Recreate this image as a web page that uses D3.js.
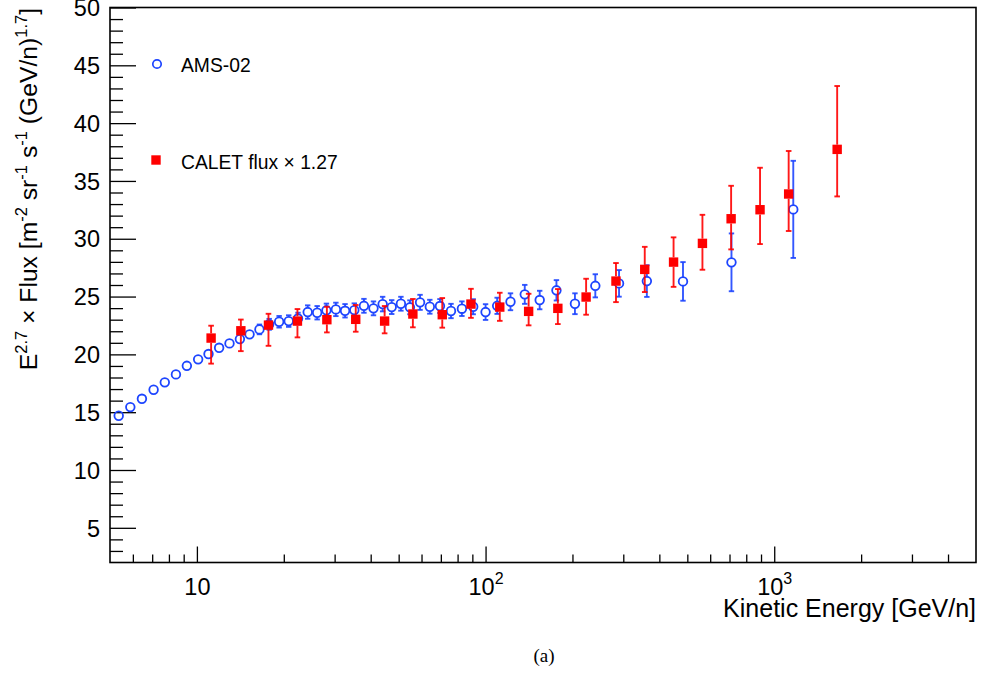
<!DOCTYPE html>
<html>
<head>
<meta charset="utf-8">
<script src="https://cdn.jsdelivr.net/npm/d3@7/dist/d3.min.js"></script>
<style>
  body { margin: 0; background: #fff; }
  text { font-family: "Liberation Sans", Arial, Helvetica, sans-serif; fill: #000; }
</style>
</head>
<body>
<div id="chart"></div>
<script>
// AMS-02 points (kinetic energy per nucleon, E^2.7 x flux, error)
var amsEnergy = [5.36, 5.88, 6.45, 7.08, 7.74, 8.46, 9.23, 10.1, 10.97, 11.94, 12.97, 14.09, 15.22, 16.47, 17.8, 19.27, 20.8, 22.4,
  24.2, 26.1, 28.1, 30.3, 32.6, 35.1, 37.9, 40.9, 44.0, 47.3, 50.9, 54.7, 59.3, 64.1, 69.5, 75.9, 82.8, 90.6, 100, 109.7,
  122, 136.7, 154, 176, 204, 240, 290, 362, 483, 711, 1164];
var amsFlux = [14.69, 15.44, 16.16, 16.94, 17.58, 18.27, 19.01, 19.57, 20.03, 20.57, 20.95, 21.32, 21.73, 22.16, 22.6, 22.82, 22.88, 23.1,
  23.66, 23.6, 23.81, 23.89, 23.77, 23.83, 24.2, 23.98, 24.35, 24.09, 24.38, 24.07, 24.5, 24.12, 24.18, 23.75, 23.95, 24.12, 23.66, 24.2,
  24.55, 25.19, 24.7, 25.54, 24.38, 25.93, 26.14, 26.34, 26.31, 27.96, 32.54];
var amsErr = [0.2, 0.2, 0.2, 0.2, 0.2, 0.2, 0.2, 0.2, 0.2, 0.25, 0.25, 0.3, 0.35, 0.42, 0.47, 0.5, 0.5, 0.5,
  0.58, 0.58, 0.58, 0.58, 0.58, 0.58, 0.6, 0.6, 0.63, 0.6, 0.6, 0.6, 0.65, 0.6, 0.6, 0.62, 0.63, 0.65, 0.68, 0.7,
  0.73, 0.82, 0.8, 0.88, 0.9, 1.0, 1.15, 1.37, 1.67, 2.5, 4.2];

// CALET points (flux x 1.27), asymmetric errors
var caletEnergy = [11.2, 14.2, 17.7, 22.3, 28.2, 35.5, 44.7, 56, 70.8, 89, 112, 141, 178, 223, 283, 356, 448, 564, 709, 893, 1122, 1652];
var caletFlux = [21.41, 22.04, 22.53, 22.88, 23.0, 23.03, 22.88, 23.49, 23.43, 24.35, 24.09, 23.72, 23.98, 24.96, 26.34, 27.35, 27.98, 29.6, 31.73, 32.51, 33.87, 37.73];
var caletErrUp = [1.07, 0.97, 0.98, 1.04, 1.12, 1.24, 1.3, 1.3, 1.44, 1.32, 1.24, 1.52, 1.67, 1.58, 1.56, 1.95, 2.14, 2.47, 2.85, 3.63, 3.72, 5.48];
var caletErrDown = [2.21, 1.76, 1.79, 1.41, 1.1, 1.07, 1.06, 1.15, 1.12, 1.19, 1.19, 1.21, 1.36, 1.53, 1.82, 1.96, 2.14, 2.28, 2.65, 2.97, 3.2, 4.07];

var xMajorTicks = [10, 100, 1000];
var xTickLabels = [["10", ""], ["10", "2"], ["10", "3"]];
var yMajorTicks = [5, 10, 15, 20, 25, 30, 35, 40, 45, 50];

var amsColor = "#1d45ff", caletColor = "#ff0000";

function fluxChart() {
  var W = 982, H = 676;
  var left = 110, right = 976, top = 7.5, bottom = 562.5;

  var svg = d3.select("#chart")
    .append("svg")
      .attr("width", W)
      .attr("height", H);

  var x = d3.scaleLog().domain([5, 5000]).range([left, right]);
  var y = d3.scaleLinear().domain([2, 50]).range([bottom, top]);

  // minor ticks (every integer on y, 2..9 per decade on x)
  var yMinor = d3.range(3, 50).filter(function(v) { return v % 5 != 0; });
  var xMinor = [];
  [1, 10, 100, 1000].forEach(function(dec) {
    d3.range(2, 10).forEach(function(m) {
      var v = m * dec;
      if (v > 5 && v < 5000) xMinor.push(v);
    });
  });

  // Y axis
  var gy = svg.append("g").attr("transform", "translate(" + left + ",0)");
  gy.call(d3.axisLeft(y).tickValues(yMajorTicks).tickSize(-26).tickSizeOuter(0).tickPadding(10));
  gy.append("g").call(d3.axisLeft(y).tickValues(yMinor).tickSize(-13).tickSizeOuter(0).tickFormat(""));
  gy.selectAll(".domain").remove();
  gy.selectAll("line").attr("stroke", "#000").attr("stroke-width", 1.3);
  gy.selectAll("text").attr("font-size", 23.5).attr("font-family", "Liberation Sans, Arial, sans-serif").attr("dy", "0.35em");

  // X axis
  var gx = svg.append("g").attr("transform", "translate(0," + bottom + ")");
  gx.call(d3.axisBottom(x).tickValues(xMajorTicks).tickSize(-16).tickSizeOuter(0));
  gx.append("g").call(d3.axisBottom(x).tickValues(xMinor).tickSize(-8).tickSizeOuter(0).tickFormat(""));
  gx.selectAll(".domain").remove();
  gx.selectAll("line").attr("stroke", "#000").attr("stroke-width", 1.3);
  gx.selectAll(".tick text")
    .filter(function(d) { return xMajorTicks.indexOf(d) >= 0; })
    .each(function(d) {
      var lab = xTickLabels[xMajorTicks.indexOf(d)];
      var t = d3.select(this).text(null)
        .attr("y", 32).attr("dy", null)
        .attr("font-size", 23.5).attr("font-family", "Liberation Sans, Arial, sans-serif");
      t.append("tspan").text(lab[0]);
      if (lab[1]) t.append("tspan").attr("dy", -11).attr("font-size", 16).text(lab[1]);
    });

  // frame
  svg.append("rect")
    .attr("x", left).attr("y", top)
    .attr("width", right - left).attr("height", bottom - top)
    .attr("fill", "none").attr("stroke", "#000").attr("stroke-width", 1.6);

  // error bar helper: segments outside the marker, with small caps
  function errorBars(data, color, r, cap) {
    var segs = [];
    data.forEach(function(d) {
      var cx = x(d.e), cy = y(d.v), yt = y(d.v + d.up), yb = y(d.v - d.down);
      if (cy - yt > r) {
        segs.push([cx, cy - r, cx, yt]);
        segs.push([cx - cap, yt, cx + cap, yt]);
      }
      if (yb - cy > r) {
        segs.push([cx, cy + r, cx, yb]);
        segs.push([cx - cap, yb, cx + cap, yb]);
      }
    });
    svg.append("g").selectAll("line")
      .data(segs)
      .enter().append("line")
        .attr("x1", function(s) { return s[0]; })
        .attr("y1", function(s) { return s[1]; })
        .attr("x2", function(s) { return s[2]; })
        .attr("y2", function(s) { return s[3]; })
        .attr("stroke", color)
        .attr("stroke-opacity", 0.9)
        .attr("stroke-width", 1.9);
  }

  var ams = amsEnergy.map(function(e, i) {
    return { e: e, v: amsFlux[i], up: amsErr[i], down: amsErr[i] };
  });
  var calet = caletEnergy.map(function(e, i) {
    return { e: e, v: caletFlux[i], up: caletErrUp[i], down: caletErrDown[i] };
  });

  // AMS-02
  errorBars(ams, amsColor, 4.3, 2.7);
  svg.append("g").selectAll("circle")
    .data(ams)
    .enter().append("circle")
      .attr("cx", function(d) { return x(d.e); })
      .attr("cy", function(d) { return y(d.v); })
      .attr("r", 4.3)
      .attr("fill", "none")
      .attr("stroke", amsColor)
      .attr("stroke-width", 1.8);

  // CALET
  errorBars(calet, caletColor, 4.7, 2.8);
  svg.append("g").selectAll("rect")
    .data(calet)
    .enter().append("rect")
      .attr("x", function(d) { return x(d.e) - 4.7; })
      .attr("y", function(d) { return y(d.v) - 4.7; })
      .attr("width", 9.4)
      .attr("height", 9.4)
      .attr("fill", caletColor);

  // legend
  var leg = svg.append("g");
  leg.append("circle").attr("cx", 157).attr("cy", 64).attr("r", 4.2)
    .attr("fill", "none").attr("stroke", amsColor).attr("stroke-width", 1.7);
  leg.append("text").attr("x", 181).attr("y", 72).attr("font-size", 19.3).text("AMS-02");
  leg.append("rect").attr("x", 151.3).attr("y", 155.3).attr("width", 9.4).attr("height", 9.4).attr("fill", caletColor);
  leg.append("text").attr("x", 181).attr("y", 169).attr("font-size", 19.3).text("CALET flux \u00d7 1.27");

  // axis titles
  svg.append("text")
    .attr("x", right).attr("y", 617)
    .attr("text-anchor", "end")
    .attr("font-size", 25)
    .text("Kinetic Energy [GeV/n]");

  var yt = svg.append("text")
    .attr("transform", "translate(37,8) rotate(-90)")
    .attr("text-anchor", "end")
    .attr("font-size", 24.7);
  var parts = [["E", 0], ["2.7", 1], [" \u00d7 Flux [m", 0], ["-2", 1], [" sr", 0], ["-1", 1], [" s", 0], ["-1", 1], [" (GeV/n)", 0], ["1.7", 1], ["]", 0]];
  var up = false;
  parts.forEach(function(p) {
    var ts = yt.append("tspan").text(p[0]);
    if (p[1] && !up) { ts.attr("dy", -10).attr("font-size", 16.5); up = true; }
    else if (p[1]) { ts.attr("font-size", 16.5); }
    else if (up) { ts.attr("dy", 10); up = false; }
  });

  // caption
  svg.append("text")
    .attr("x", 544).attr("y", 662)
    .attr("text-anchor", "middle")
    .attr("font-size", 19)
    .style("font-family", "'Liberation Serif', 'DejaVu Serif', serif")
    .text("(a)");
}

fluxChart();
</script>
</body>
</html>
